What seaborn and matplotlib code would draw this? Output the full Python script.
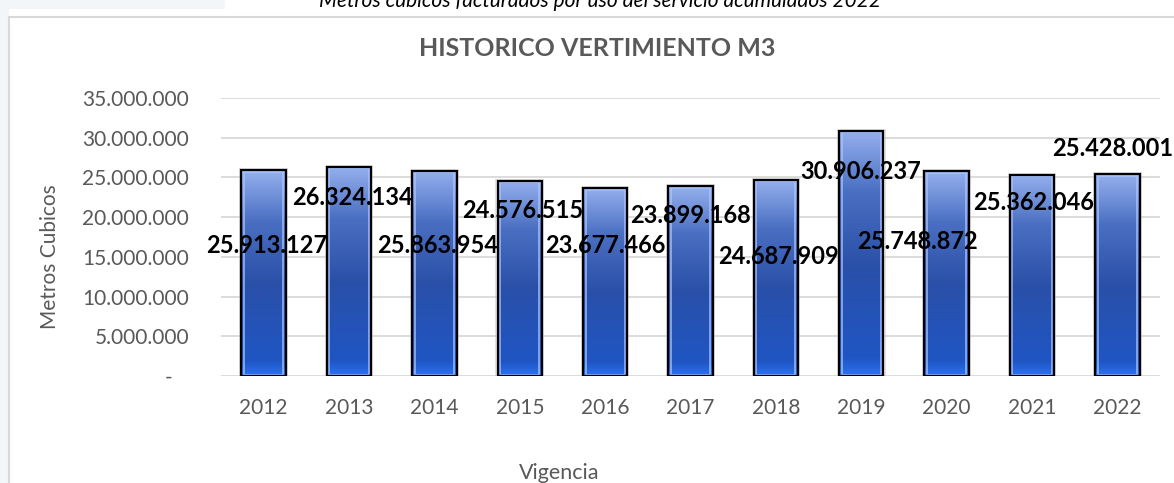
import numpy as np
import pandas as pd
import matplotlib
matplotlib.use("Agg")
import matplotlib.pyplot as plt
from matplotlib.colors import LinearSegmentedColormap
from matplotlib.patches import Rectangle
from matplotlib.ticker import FuncFormatter, MultipleLocator
import seaborn as sns

# --- data -------------------------------------------------------------
years = ["2012", "2013", "2014", "2015", "2016", "2017",
         "2018", "2019", "2020", "2021", "2022"]
volumes = [25913127, 26324134, 25863954, 24576515, 23677466, 23899168,
           24687909, 30906237, 25748872, 25362046, 25428001]

# where Excel dropped each data label (y in m3, x offset in category units)
label_y = [16.4e6, 22.5e6, 16.4e6, 20.8e6, 16.4e6, 20.2e6,
           15.1e6, 25.8e6, 16.9e6, 21.9e6, 28.6e6]
label_dx = [0.04, 0.04, 0.04, 0.04, 0.0, 0.0,
            0.03, -0.01, -0.34, 0.02, -0.06]

TITLE = "HISTORICO VERTIMIENTO M3"
TOP_NOTE = "Metros cubicos facturados por uso del servicio acumulados 2022"
GRAY = "#595959"

df = pd.DataFrame({"Vigencia": years, "m3": volumes})

sns.set_theme(style="white")
plt.rcParams["font.family"] = ["Lato", "DejaVu Sans"]

fig = plt.figure(figsize=(11.74, 4.83), dpi=100, facecolor="white")
ax = fig.add_axes([221 / 1174, 1 - 376 / 483, 939 / 1174, 278 / 483])

sns.barplot(data=df, x="Vigencia", y="m3", ax=ax, width=0.52,
            color="#3060c0", edgecolor="black", linewidth=1.6,
            saturation=1, zorder=3)

# gradient fill inside each bar, like the Excel preset
cmap = LinearSegmentedColormap.from_list(
    "xl", [(0.0, "#2c72f4"), (0.07, "#1f56c4"), (0.45, "#2a50a8"),
           (0.75, "#4a6fc2"), (1.0, "#95b0ee")])
grad = np.linspace(0, 1, 256).reshape(-1, 1)
for p in list(ax.patches):
    x0, y0 = p.get_x(), p.get_y()
    w, h = p.get_width(), p.get_height()
    # soft shadow
    ax.add_patch(Rectangle((x0 - 0.025, y0), w + 0.05, h + 0.25e6,
                           facecolor="#bfbfbf", edgecolor="none",
                           alpha=0.45, zorder=2))
    im = ax.imshow(grad, extent=[x0, x0 + w, y0, y0 + h], origin="lower",
                   aspect="auto", cmap=cmap, zorder=3.5)
    im.set_clip_path(p)
    p.set_facecolor("none")
    p.set_zorder(4)
    # light inner bevel
    ax.add_patch(Rectangle((x0 + 0.03, y0 + 0.15e6), w - 0.06, h - 0.35e6,
                           facecolor="none", edgecolor="#a9c6ff",
                           linewidth=1.4, alpha=0.7, zorder=3.8))

ax.set_ylim(0, 35e6)
ax.set_xlim(-0.5, len(years) - 0.5)

for i, (v, ly, dx) in enumerate(zip(volumes, label_y, label_dx)):
    ax.text(i + dx, ly, f"{v:,}".replace(",", "."), ha="center",
            va="center", fontsize=17, fontweight="bold", color="black",
            zorder=6, clip_on=False)

ax.yaxis.set_major_locator(MultipleLocator(5e6))
ax.yaxis.set_major_formatter(FuncFormatter(
    lambda v, _: "-   " if v == 0 else f"{int(v):,}".replace(",", ".")))
ax.grid(axis="y", color="#d9d9d9", linewidth=1.3, zorder=0)
ax.set_axisbelow(True)
for s in ax.spines.values():
    s.set_visible(False)
ax.tick_params(axis="both", length=0, labelsize=15, labelcolor=GRAY)
ax.tick_params(axis="y", pad=23)
ax.tick_params(axis="x", pad=16)

ax.set_xlabel("Vigencia", fontsize=15.5, color=GRAY)
ax.set_ylabel("Metros Cubicos", fontsize=15, color=GRAY)
ax.xaxis.set_label_coords((559 - 221) / 939, -(463 - 376) / 278)
ax.yaxis.set_label_coords(-(221 - 60) / 939, (376 - 257) / 278)

fig.text(597 / 1174, 1 - 48 / 483, TITLE, ha="center", va="center",
         fontsize=18, fontweight="bold", color=GRAY)

# page background bits around the chart frame
fig.patches.append(Rectangle((0, 0), 9 / 1174, 1, transform=fig.transFigure,
                             facecolor="#f3f6f9", edgecolor="none", zorder=0))
fig.patches.append(Rectangle((0, 1 - 9 / 483), 225 / 1174, 9 / 483,
                             transform=fig.transFigure, facecolor="#f3f6f9",
                             edgecolor="none", zorder=0))
fig.patches.append(Rectangle((9 / 1174, -0.1), 1.2, 1.1 - 17 / 483,
                             transform=fig.transFigure, facecolor="none",
                             edgecolor="#d9d9d9", linewidth=1.5, zorder=1))
fig.text(600 / 1174, 1 - 1 / 483, TOP_NOTE, ha="center", va="center",
         fontsize=15, fontstyle="italic", color="black")

fig.savefig("out.png", dpi=100, facecolor=fig.get_facecolor())
